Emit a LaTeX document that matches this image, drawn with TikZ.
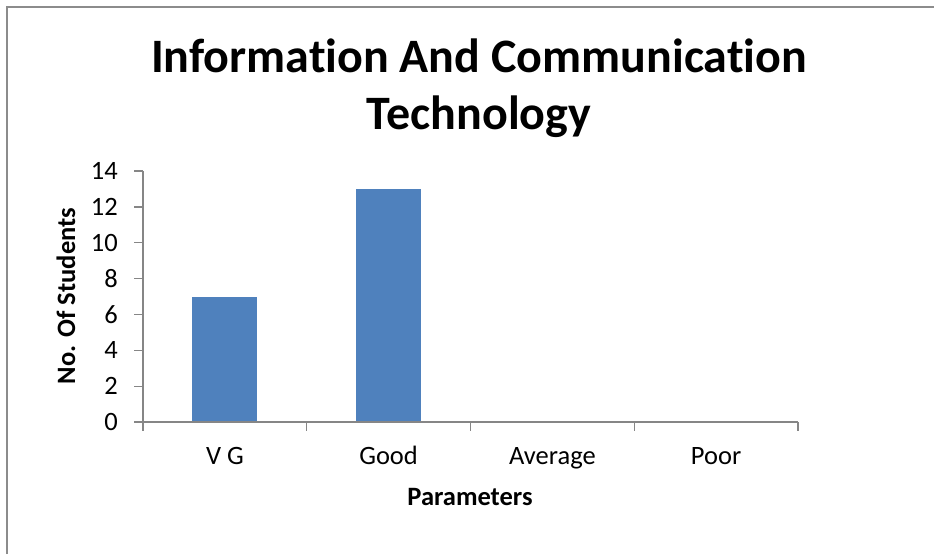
\documentclass[tikz,border=0pt]{standalone}
\usepackage{fontspec}
\setmainfont{Carlito}[Ligatures=NoCommon]
\usepackage{tikz}
\usetikzlibrary{positioning}
\definecolor{barblue}{HTML}{4F81BD}
\definecolor{axisgray}{HTML}{868686}
\definecolor{framegray}{HTML}{8C8C8C}

\begin{document}
\begin{tikzpicture}[x=1pt,y=-1pt,
		axisline/.style={draw=axisgray, line width=1.2pt},
		bar/.style={fill=barblue, draw=none},
		ticklabel/.style={inner sep=0pt, font=\fontsize{26.5}{30}\selectfont},
		axistitle/.style={inner sep=0pt, font=\fontsize{26.5}{30}\selectfont\bfseries},
		charttitle/.style={inner sep=0pt, font=\fontsize{48}{56}\selectfont\bfseries}]
		
		\useasboundingbox (0,0) rectangle (944,554);
		
		%Frame
		\coordinate (fbl) at (7,554);
		\coordinate (ftl) at (7,7);
		\coordinate (ftr) at (934,7);
		\draw[draw=framegray, line width=2pt] (fbl) -- (ftl) -- (ftr);
		
		%Title
		\node[charttitle, anchor=base] (title1) at (479,72) {Information And Communication};
		\node[charttitle, anchor=base] (title2) at (479,129) {Technology};
		
		%Bars
		\fill[bar] (192,422) rectangle (257,296.5);
		\fill[bar] (356,422) rectangle (421,188.9);
		
		%Axes
		\coordinate (origin) at (143,422);
		\coordinate (ytop) at (143,171);
		\coordinate (xend) at (798,422);
		\draw[axisline] (ytop) -- (origin) -- (xend);
		
		%Y ticks
		\draw[axisline] (134,422) -- (origin);
		\draw[axisline] (134,386.1) -- (143,386.1);
		\draw[axisline] (134,350.3) -- (143,350.3);
		\draw[axisline] (134,314.4) -- (143,314.4);
		\draw[axisline] (134,278.6) -- (143,278.6);
		\draw[axisline] (134,242.7) -- (143,242.7);
		\draw[axisline] (134,206.9) -- (143,206.9);
		\draw[axisline] (134,171) -- (ytop);
		
		%Y labels
		\node[ticklabel, anchor=east] (y0) at (118,422) {0};
		\node[ticklabel, anchor=east] (y2) at (118,386.1) {2};
		\node[ticklabel, anchor=east] (y4) at (118,350.3) {4};
		\node[ticklabel, anchor=east] (y6) at (118,314.4) {6};
		\node[ticklabel, anchor=east] (y8) at (118,278.6) {8};
		\node[ticklabel, anchor=east] (y10) at (118,242.7) {10};
		\node[ticklabel, anchor=east] (y12) at (118,206.9) {12};
		\node[ticklabel, anchor=east] (y14) at (118,171) {14};
		
		%X ticks
		\draw[axisline] (origin) -- (143,431);
		\draw[axisline] (306.75,422) -- (306.75,431);
		\draw[axisline] (470.5,422) -- (470.5,431);
		\draw[axisline] (634.25,422) -- (634.25,431);
		\draw[axisline] (xend) -- (798,431);
		
		%X labels
		\node[ticklabel, anchor=base] (vg) at (224.9,464) {V G};
		\node[ticklabel, anchor=base] (good) at (388.6,464) {Good};
		\node[ticklabel, anchor=base] (average) at (552.4,464) {Average};
		\node[ticklabel, anchor=base] (poor) at (716.1,464) {Poor};
		
		%Axis titles
		\node[axistitle, anchor=base] (xtitle) at (470,505) {Parameters};
		\node[axistitle, anchor=base, rotate=90] (ytitle) at (75,296) {No. Of Students};
		
\end{tikzpicture}
\end{document}
